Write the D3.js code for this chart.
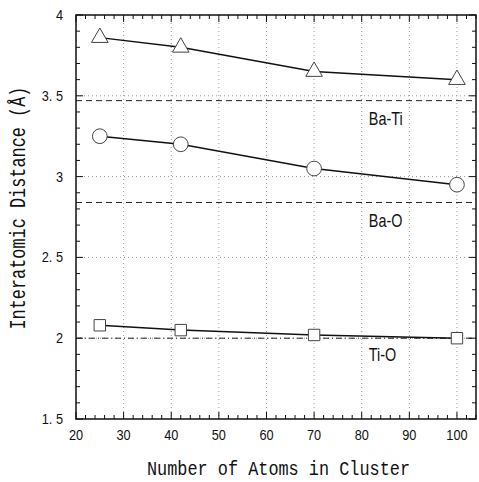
<!DOCTYPE html>
<html>
<head>
<meta charset="utf-8">
<script src="https://cdn.jsdelivr.net/npm/d3@7"></script>
<style>
  body { margin: 0; background: #fff; }
  text { font-family: "Liberation Sans", Arial, sans-serif; fill: #111; }
</style>
</head>
<body>
<div id="chart"></div>
<script>
// Cluster sizes and distances
const atoms = [25, 42, 70, 100];
const baTi = [3.86, 3.80, 3.65, 3.60];
const baO = [3.25, 3.20, 3.05, 2.95];
const tiO = [2.08, 2.05, 2.02, 2.00];

// Bulk reference distances (horizontal lines)
const refNames = ["Ba-Ti", "Ba-O", "Ti-O"];
const refValues = [3.47, 2.84, 2.00];

const xTicks = [20, 30, 40, 50, 60, 70, 80, 90, 100];
const yTicks = [1.5, 2, 2.5, 3, 3.5, 4];
const yTickLabels = ["1. 5", "2", "2. 5", "3", "3. 5", "4"];

const W = 479, H = 482;
const margin = { top: 15, right: 3, bottom: 63, left: 76 },
    width = W - margin.left - margin.right,
    height = H - margin.top - margin.bottom;

const svg = d3.select("#chart")
    .append("svg")
    .attr("width", W)
    .attr("height", H);

const g = svg.append("g")
    .attr("transform", `translate(${margin.left},${margin.top})`);

const x = d3.scaleLinear().domain([20, 104]).range([0, width]);
const y = d3.scaleLinear().domain([1.5, 4]).range([height, 0]);

// dotted grid
g.selectAll(".vgrid")
    .data(xTicks.filter(d => d > 20))
    .enter().append("line")
    .attr("x1", d => x(d)).attr("x2", d => x(d))
    .attr("y1", 0).attr("y2", height)
    .attr("stroke", "#999").attr("stroke-width", 1)
    .attr("stroke-dasharray", "1,3");

g.selectAll(".hgrid")
    .data(yTicks.filter(d => d > 1.5 && d < 4))
    .enter().append("line")
    .attr("x1", 0).attr("x2", width)
    .attr("y1", d => y(d)).attr("y2", d => y(d))
    .attr("stroke", "#999").attr("stroke-width", 1)
    .attr("stroke-dasharray", "1,3");

// reference lines
const refDash = ["6,4", "6,4", "6,3,1,3"];
g.selectAll(".ref")
    .data(refValues)
    .enter().append("line")
    .attr("x1", 0).attr("x2", width)
    .attr("y1", d => y(d)).attr("y2", d => y(d))
    .attr("stroke", "#222").attr("stroke-width", 1)
    .attr("stroke-dasharray", (d, i) => refDash[i]);

const refLabelY = [3.32, 2.69, 1.86];
g.selectAll(".refLabel")
    .data(refNames)
    .enter().append("text")
    .attr("transform", (d, i) => `translate(${x(81.5)},${y(refLabelY[i])}) scale(0.8,1)`)
    .attr("font-size", 18)
    .text(d => d);

// axes frame and ticks (inward)
const minorX = d3.range(20, 105, 2);
const minorY = d3.range(15, 41, 1).map(d => d / 10);

g.append("rect")
    .attr("width", width).attr("height", height)
    .attr("fill", "none").attr("stroke", "#111").attr("stroke-width", 1.5);

function tickLen(v, major) { return major ? 7 : 4; }

g.selectAll(".xtb")
    .data(minorX)
    .enter().append("line")
    .attr("x1", d => x(d)).attr("x2", d => x(d))
    .attr("y1", height)
    .attr("y2", d => height - tickLen(d, d % 10 === 0))
    .attr("stroke", "#111");

g.selectAll(".xtt")
    .data(minorX)
    .enter().append("line")
    .attr("x1", d => x(d)).attr("x2", d => x(d))
    .attr("y1", 0)
    .attr("y2", d => tickLen(d, d % 10 === 0))
    .attr("stroke", "#111");

g.selectAll(".ytl")
    .data(minorY)
    .enter().append("line")
    .attr("y1", d => y(d)).attr("y2", d => y(d))
    .attr("x1", 0)
    .attr("x2", d => tickLen(d, Math.abs(d * 2 - Math.round(d * 2)) < 1e-6))
    .attr("stroke", "#111");

g.selectAll(".ytr")
    .data(minorY)
    .enter().append("line")
    .attr("y1", d => y(d)).attr("y2", d => y(d))
    .attr("x1", width)
    .attr("x2", d => width - tickLen(d, Math.abs(d * 2 - Math.round(d * 2)) < 1e-6))
    .attr("stroke", "#111");

// tick labels
g.selectAll(".xl")
    .data(xTicks)
    .enter().append("text")
    .attr("transform", d => `translate(${x(d)},${height + 21}) scale(0.85,1)`)
    .attr("text-anchor", "middle")
    .attr("font-size", 15)
    .text(d => d);

g.selectAll(".yl")
    .data(yTicks)
    .enter().append("text")
    .attr("transform", d => `translate(-13,${y(d) + 5}) scale(0.85,1)`)
    .attr("text-anchor", "end")
    .attr("font-size", 15)
    .text((d, i) => yTickLabels[i]);

// axis titles
g.append("text")
    .attr("x", 202.5)
    .attr("y", height + 56)
    .attr("text-anchor", "middle")
    .attr("font-size", 21)
    .attr("textLength", 263)
    .attr("lengthAdjust", "spacingAndGlyphs")
    .style("font-family", "'Liberation Mono', monospace")
    .text("Number of Atoms in Cluster");

g.append("text")
    .attr("transform", "rotate(-90)")
    .attr("x", -193)
    .attr("y", -51)
    .attr("text-anchor", "middle")
    .attr("font-size", 22)
    .attr("textLength", 243)
    .attr("lengthAdjust", "spacingAndGlyphs")
    .style("font-family", "'Liberation Mono', monospace")
    .text("Interatomic Distance (Å)");

// series
const line = d3.line().x(d => x(d[0])).y(d => y(d[1]));
const series = [
    { vals: baTi, shape: d3.symbolTriangle, size: 120 },
    { vals: baO, shape: d3.symbolCircle, size: 170 },
    { vals: tiO, shape: d3.symbolSquare, size: 130 }
];

series.forEach(s => {
    const pts = atoms.map((a, i) => [a, s.vals[i]]);
    g.append("path")
        .datum(pts)
        .attr("fill", "none")
        .attr("stroke", "#111")
        .attr("stroke-width", 1.5)
        .attr("d", line);
    g.selectAll(null)
        .data(pts)
        .enter().append("path")
        .attr("transform", d => `translate(${x(d[0])},${y(d[1])})`)
        .attr("d", d3.symbol().type(s.shape).size(s.size))
        .attr("fill", "#fff")
        .attr("stroke", "#444")
        .attr("stroke-width", 1);
});
</script>
</body>
</html>
